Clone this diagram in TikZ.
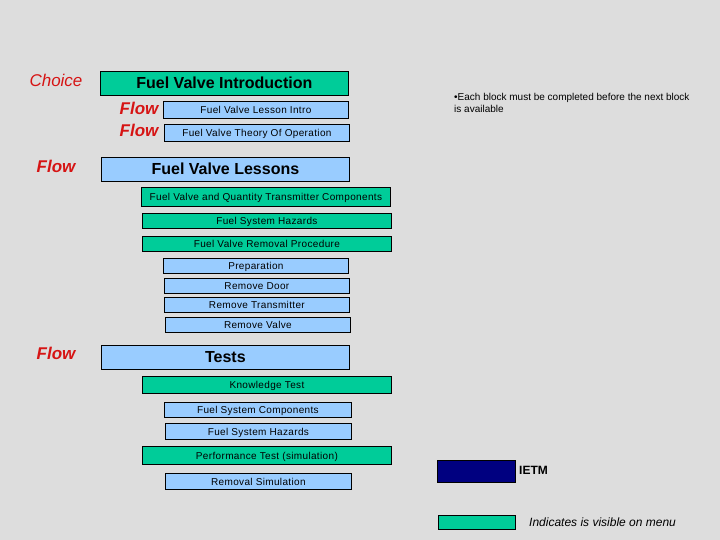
\documentclass[tikz,border=0pt]{standalone}
\usepackage{fontspec}
\setmainfont{Liberation Sans}
\definecolor{bg}{RGB}{221,221,221}
\definecolor{gfill}{RGB}{0,204,153}
\definecolor{bfill}{RGB}{153,204,255}
\definecolor{navy}{RGB}{0,0,128}
\definecolor{lred}{RGB}{214,20,20}
\tikzset{
  box/.style={draw=black, line width=0.8pt, anchor=north west, inner sep=0pt, align=center},
  gbox/.style={box, fill=gfill},
  bbox/.style={box, fill=bfill},
  big/.style={font=\fontsize{16}{18}\selectfont\bfseries, text height=11.5pt, text depth=0.5pt},
  small/.style={font=\fontsize{10}{12}\selectfont\addfontfeature{LetterSpace=3.5}, text height=7.2pt, text depth=0pt},
  lbl/.style={text=lred, font=\fontsize{17}{19}\selectfont\itshape, inner sep=0pt},
  flowlbl/.style={lbl, font=\fontsize{17}{19}\selectfont\itshape\bfseries},
}
\begin{document}
\begin{tikzpicture}[x=1pt,y=-1pt]
\fill[bg] (0,0) rectangle (720,540);
\useasboundingbox (0,0) rectangle (720,540);
% labels
\node[lbl] (choice) at (56,80) {Choice};
\node[flowlbl] (flow1) at (139,108.5) {Flow};
\node[flowlbl] (flow2) at (139,130) {Flow};
\node[flowlbl] (flow3) at (56,166) {Flow};
\node[flowlbl] (flow4) at (56,353) {Flow};
% introduction
\node[gbox, big, minimum width=248pt, minimum height=24pt] (intro) at (100,71) {Fuel Valve Introduction};
\node[bbox, small, minimum width=185pt, minimum height=17pt] (lintro) at (163,101.5) {Fuel Valve Lesson Intro};
\node[bbox, small, minimum width=185pt, minimum height=17pt] (theory) at (164,124) {Fuel Valve Theory Of Operation};
% lessons
\node[bbox, big, minimum width=248pt, minimum height=24pt] (lessons) at (101,157) {Fuel Valve Lessons};
\node[gbox, small, minimum width=249pt, minimum height=19pt] (comp) at (141,187) {Fuel Valve and Quantity Transmitter Components};
\node[gbox, small, minimum width=249pt, minimum height=15pt] (haz) at (142,213) {Fuel System Hazards};
\node[gbox, small, minimum width=249pt, minimum height=15pt] (rem) at (142,236) {Fuel Valve Removal Procedure};
\node[bbox, small, minimum width=185pt, minimum height=15pt] (prep) at (163,258) {Preparation};
\node[bbox, small, minimum width=185pt, minimum height=15pt] (door) at (164,278) {Remove Door};
\node[bbox, small, minimum width=185pt, minimum height=15pt] (trans) at (164,297) {Remove Transmitter};
\node[bbox, small, minimum width=185pt, minimum height=15pt] (valve) at (165,317) {Remove Valve};
% tests
\node[bbox, big, minimum width=248pt, minimum height=24pt] (tests) at (101,345) {Tests};
\node[gbox, small, minimum width=249pt, minimum height=17pt] (know) at (142,376) {Knowledge Test};
\node[bbox, small, minimum width=187pt, minimum height=15pt] (fsc) at (164,402) {Fuel System Components};
\node[bbox, small, minimum width=186pt, minimum height=16pt] (fsh) at (165,423) {Fuel System Hazards};
\node[gbox, small, minimum width=249pt, minimum height=18pt] (perf) at (142,446) {Performance Test (simulation)};
\node[bbox, small, minimum width=186pt, minimum height=16pt] (rsim) at (165,473) {Removal Simulation};
% note
\node[anchor=north west, inner sep=0pt, align=left, font=\fontsize{10}{12}\selectfont] (note) at (454,93) {\textbullet Each block must be completed before the next block\\is available};
% legend
\node[box, fill=navy, minimum width=78pt, minimum height=22pt] (ietmbox) at (437,460) {};
\node[anchor=west, inner sep=0pt, font=\fontsize{12}{14}\selectfont\bfseries] (ietm) at (519,470.5) {IETM};
\node[gbox, minimum width=77pt, minimum height=14pt] (legbox) at (438,515) {};
\node[anchor=west, inner sep=0pt, font=\fontsize{12}{14}\selectfont\itshape] (legtxt) at (529,522) {Indicates is visible on menu};
\end{tikzpicture}
\end{document}
